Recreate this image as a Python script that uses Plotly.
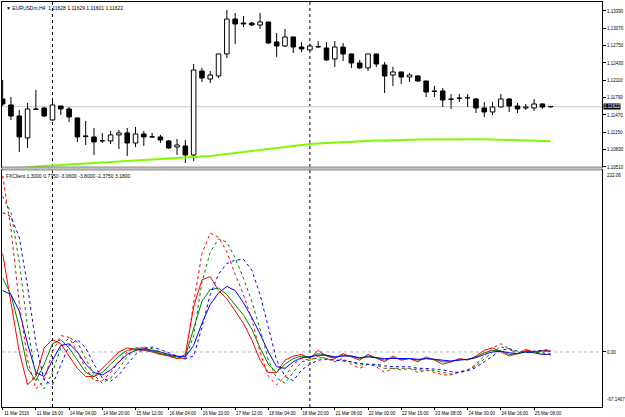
import plotly.graph_objects as go

bars = list(range(67))
opens = [1.11765, 1.11654, 1.11451, 1.11045, 1.11581, 1.11599, 1.11378, 1.11636, 1.11581, 1.11415,
         1.11083, 1.11064, 1.10990, 1.10990, 1.11101, 1.11138, 1.10952, 1.11119, 1.11068, 1.11064,
         1.10990, 1.10879, 1.10898, 1.10731, 1.12282, 1.12134, 1.12190, 1.12596, 1.13242, 1.13168,
         1.13168, 1.13131, 1.13187, 1.12818, 1.12744, 1.12910, 1.12725, 1.12670, 1.12735, 1.12707,
         1.12504, 1.12725, 1.12596, 1.12430, 1.12339, 1.12596, 1.12393, 1.12208, 1.12264, 1.12171,
         1.12190, 1.12097, 1.11913, 1.11913, 1.11765, 1.11784, 1.11784, 1.11765, 1.11599, 1.11525,
         1.11617, 1.11765, 1.11636, 1.11599, 1.11599, 1.11673, 1.11628]
highs = [1.12116, 1.11802, 1.11562, 1.11691, 1.11931, 1.11617, 1.11784, 1.11640, 1.11617, 1.11420,
         1.11360, 1.11230, 1.11138, 1.11175, 1.11193, 1.11230, 1.11248, 1.11175, 1.11138, 1.11101,
         1.11008, 1.11027, 1.11008, 1.12411, 1.12339, 1.12282, 1.12600, 1.13408, 1.13353, 1.13298,
         1.13187, 1.13353, 1.13190, 1.12984, 1.13058, 1.12915, 1.12818, 1.12781, 1.12836, 1.12818,
         1.12836, 1.12799, 1.12600, 1.12486, 1.12600, 1.12600, 1.12449, 1.12356, 1.12268, 1.12245,
         1.12208, 1.12100, 1.12005, 1.11968, 1.11857, 1.11857, 1.11857, 1.11784, 1.11710, 1.11710,
         1.11857, 1.11784, 1.11691, 1.11673, 1.11765, 1.11691, 1.11629]
lows = [1.11636, 1.11378, 1.10787, 1.10861, 1.11562, 1.11433, 1.11360, 1.11470, 1.11341, 1.10971,
        1.10916, 1.10731, 1.10952, 1.10934, 1.10842, 1.10713, 1.10879, 1.10898, 1.11045, 1.10952,
        1.10842, 1.10731, 1.10584, 1.10619, 1.12079, 1.12060, 1.12153, 1.12522, 1.12781, 1.13094,
        1.13113, 1.13058, 1.12781, 1.12541, 1.12725, 1.12615, 1.12633, 1.12665, 1.12707, 1.12467,
        1.12356, 1.12467, 1.12339, 1.12319, 1.12282, 1.12356, 1.11876, 1.12005, 1.12042, 1.12079,
        1.12079, 1.11802, 1.11802, 1.11617, 1.11581, 1.11710, 1.11617, 1.11507, 1.11433, 1.11470,
        1.11612, 1.11525, 1.11507, 1.11562, 1.11544, 1.11581, 1.11601]
closes = [1.11673, 1.11451, 1.11064, 1.11581, 1.11572, 1.11451, 1.11654, 1.11581, 1.11433, 1.11064,
          1.11070, 1.10971, 1.10995, 1.11101, 1.11138, 1.10952, 1.11119, 1.11064, 1.11062, 1.11008,
          1.10861, 1.10916, 1.10731, 1.12301, 1.12153, 1.12208, 1.12596, 1.13242, 1.13150, 1.13150,
          1.13131, 1.13187, 1.12799, 1.12744, 1.12910, 1.12725, 1.12688, 1.12744, 1.12725, 1.12486,
          1.12725, 1.12596, 1.12430, 1.12339, 1.12596, 1.12411, 1.12190, 1.12264, 1.12171, 1.12208,
          1.12097, 1.11894, 1.11905, 1.11747, 1.11758, 1.11776, 1.11788, 1.11599, 1.11525, 1.11617,
          1.11765, 1.11636, 1.11581, 1.11617, 1.11673, 1.11617, 1.11622]
ma = [None, None,
      1.10491, 1.10510, 1.10519, 1.10528, 1.10537, 1.10547, 1.10556, 1.10565, 1.10574, 1.10584,
      1.10593, 1.10602, 1.10611, 1.10619, 1.10625, 1.10633, 1.10639, 1.10648, 1.10658, 1.10667,
      1.10676, 1.10685, 1.10704, 1.10713, 1.10731, 1.10750, 1.10768, 1.10787, 1.10805, 1.10824,
      1.10842, 1.10861, 1.10879, 1.10898, 1.10916, 1.10934, 1.10944, 1.10952, 1.10962, 1.10971,
      1.10980, 1.10990, 1.10990, 1.10999, 1.10999, 1.11008, 1.11008, 1.11012, 1.11016, 1.11018,
      1.11019, 1.11021, 1.11023, 1.11023, 1.11023, 1.11023, 1.11021, 1.11019, 1.11016, 1.11012,
      1.11008, 1.11003, 1.10997, 1.10990, 1.10986]

# FXClient indicator buffers
red_solid = [120, 60, 0, -40, -30, 5, 15, 10, -5, -20, -30, -30, -20, -10, 0, 5, 3, 2, 0, -3,
             -5, -8, -3, 55, 88, 92, 75, 65, 50, 35, 15, -10, -25, -25, -10, -5, -3, -8, 2, -5,
             -8, -2, -6, -10, -3, -8, -12, -5, -10, -8, -12, -6, -10, -15, -12, -8, -10, -5, 2, 5,
             0, -5, -2, 3, 0, 2, 1.3]
green_solid = [90, 70, 30, -20, -35, -15, 10, 15, 5, -10, -25, -30, -25, -15, -5, 2, 4, 3, 1, -2,
               -4, -6, -5, 30, 62, 76, 78, 70, 58, 45, 28, 5, -15, -25, -15, -8, -5, -6, -2, -4,
               -7, -4, -5, -8, -5, -7, -10, -7, -9, -8, -10, -8, -9, -12, -12, -9, -9, -6, -1, 2,
               1, -3, -2, 1, 0, 1, 0.775]
blue_solid = [75, 70, 50, 10, -25, -30, -10, 8, 10, 0, -15, -25, -28, -22, -12, -3, 2, 4, 2, 0,
              -3, -5, -6, 8, 35, 58, 72, 80, 75, 60, 42, 22, 0, -18, -20, -12, -7, -6, -4, -4,
              -6, -5, -5, -7, -6, -7, -8, -8, -8, -8, -9, -8, -9, -10, -11, -10, -9, -7, -3, 0,
              1, -1, -2, 0, -1, -3, -3.06]
red_dot = [215, 150, 60, -10, -45, -35, 0, 20, 18, 0, -20, -35, -35, -25, -12, 0, 5, 5, 2, -2,
           -5, -8, -8, 60, 120, 145, 140, 122, 95, 70, 40, 0, -30, -40, -30, -15, -8, -10, -5, -8,
           -12, -8, -15, -20, -15, -18, -25, -20, -22, -20, -25, -22, -25, -28, -28, -24, -22, -15, -5, 5,
           10, 3, -3, 2, 0, -2, -3.8]
green_dot = [190, 170, 110, 30, -30, -45, -25, 5, 18, 12, -8, -28, -38, -32, -20, -6, 3, 6, 4, 0,
             -4, -7, -9, 20, 85, 122, 138, 134, 115, 90, 62, 28, -10, -32, -38, -25, -12, -10, -7, -8,
             -10, -10, -12, -16, -15, -16, -20, -20, -20, -20, -22, -22, -23, -25, -27, -25, -22, -17, -8, 0,
             6, 4, -1, 0, 0, -1, -2.375]
blue_dot = [170, 165, 140, 80, 10, -35, -40, -15, 8, 15, 5, -15, -32, -36, -28, -15, -3, 4, 6, 3,
            -1, -5, -8, -5, 30, 70, 95, 108, 112, 113, 100, 70, 30, -10, -30, -35, -22, -15, -10, -9,
            -10, -11, -12, -14, -15, -15, -17, -18, -18, -18, -20, -20, -21, -22, -24, -25, -23, -19, -12, -5,
            2, 4, 1, -1, 1, 2, 3.18]

tick_bars = [0, 4, 8, 12, 16, 20, 24, 28, 32, 36, 40, 44, 48, 52, 56, 60, 64]
tick_text = ["11 Mar 2016", "11 Mar 16:00", "14 Mar 04:00", "14 Mar 20:00", "15 Mar 12:00",
             "16 Mar 04:00", "16 Mar 20:00", "17 Mar 12:00", "18 Mar 04:00", "18 Mar 20:00",
             "21 Mar 08:00", "22 Mar 00:00", "22 Mar 16:00", "23 Mar 08:00", "24 Mar 00:00",
             "24 Mar 16:00", "25 Mar 08:00"]
price_ticks = [1.10510, 1.10830, 1.11150, 1.11470, 1.11790, 1.12110, 1.12430, 1.12750, 1.13070, 1.13390]
bid = 1.11622
separators = [6, 37]
ind_max, ind_min = 222.06, -67.1467

FONT = "Liberation Sans"
fig = go.Figure()

# candle bodies
bases = [min(o, c) for o, c in zip(opens, closes)]
heights = [abs(c - o) for o, c in zip(opens, closes)]
colors = ["white" if c >= o else "black" for o, c in zip(opens, closes)]
fig.add_trace(go.Bar(x=bars, y=heights, base=bases, width=0.55,
                     marker=dict(color=colors, line=dict(color="black", width=1)),
                     xaxis="x", yaxis="y", hoverinfo="skip"))
# wicks
wx, wy = [], []
for i, o, h, l, c in zip(bars, opens, highs, lows, closes):
    wx += [i, i, None, i, i, None]
    wy += [h, max(o, c), None, min(o, c), l, None]
fig.add_trace(go.Scatter(x=wx, y=wy, mode="lines", line=dict(color="black", width=1),
                         xaxis="x", yaxis="y", hoverinfo="skip"))
# moving average
fig.add_trace(go.Scatter(x=bars, y=ma, mode="lines", line=dict(color="#7cfc00", width=2),
                         xaxis="x", yaxis="y"))

for vals, col, dash in [(red_solid, "#ff0000", "solid"), (green_solid, "#008000", "solid"),
                        (blue_solid, "#0000ff", "solid"), (red_dot, "#ff0000", "dot"),
                        (green_dot, "#008000", "dot"), (blue_dot, "#0000ff", "dot")]:
    fig.add_trace(go.Scatter(x=bars, y=vals, mode="lines", line=dict(color=col, width=1, dash=dash),
                             xaxis="x2", yaxis="y2"))

xr = [-0.08, 72.18]
ax_common = dict(showgrid=False, zeroline=False, showline=True, mirror=True, linecolor="black",
                 linewidth=1, tickfont=dict(family=FONT, size=4.5, color="black"))
fig.update_layout(
    width=625, height=417, margin=dict(l=1, r=22, t=2, b=10),
    paper_bgcolor="white", plot_bgcolor="white", showlegend=False,
    xaxis=dict(anchor="y", range=xr, showticklabels=False, ticks="", **ax_common),
    yaxis=dict(anchor="x", domain=[0.5926, 1], side="right", range=[1.10509, 1.13556],
               tickvals=price_ticks, tickformat=".5f", ticks="outside", ticklen=3,
               tickcolor="black", **ax_common),
    xaxis2=dict(anchor="y2", range=xr, tickvals=tick_bars, ticktext=tick_text, ticks="outside",
                ticklen=2, tickcolor="black", ticklabelshift=14, ticklabelstandoff=0, **ax_common),
    yaxis2=dict(anchor="x2", domain=[0, 0.5852], side="right", range=[ind_min, ind_max],
                tickvals=[0], ticktext=["0.00"], ticks="outside", ticklen=3, tickcolor="black",
                **ax_common),
)

shapes = []
# separator between panels
shapes.append(dict(type="rect", xref="paper", yref="paper", x0=0, x1=1, y0=0.5852, y1=0.5926,
                   fillcolor="#c0c0c0", line=dict(color="#909090", width=1), layer="above"))
# bid line
shapes.append(dict(type="line", xref="x", yref="y", x0=xr[0], x1=xr[1], y0=bid, y1=bid,
                   line=dict(color="#c8c8c8", width=1), layer="below"))
# zero level
shapes.append(dict(type="line", xref="x2", yref="y2", x0=xr[0], x1=xr[1], y0=0, y1=0,
                   line=dict(color="#b0b0b0", width=1, dash="dot"), layer="below"))
for s in separators:
    shapes.append(dict(type="line", xref="x", yref="paper", x0=s, x1=s, y0=0, y1=1,
                       line=dict(color="black", width=1, dash="dot"), layer="below"))
fig.update_layout(shapes=shapes)

ann = [
    dict(text="▼ EURUSDm,H4  1.11628 1.11629 1.11601 1.11622", xref="paper", yref="paper",
         x=0, y=1, xanchor="left", yanchor="top", xshift=2, yshift=-1, showarrow=False,
         font=dict(family=FONT, size=5, color="black")),
    dict(text="FXClient 1.3000 0.7750 -3.0600 -3.8000 -2.3750 3.1800", xref="paper", yref="paper",
         x=0, y=0.5852, xanchor="left", yanchor="top", xshift=2, yshift=-1, showarrow=False,
         font=dict(family=FONT, size=5, color="black")),
    dict(text="1.11622", xref="paper", yref="y", x=1, y=bid, xanchor="left", yanchor="middle",
         xshift=1, showarrow=False, bgcolor="black", borderpad=0,
         font=dict(family=FONT, size=4.5, color="white")),
    dict(text="222.06", xref="paper", yref="y2", x=1, y=ind_max, xanchor="left", yanchor="top",
         xshift=3, yshift=-1, showarrow=False, font=dict(family=FONT, size=4.5, color="black")),
    dict(text="-67.1467", xref="paper", yref="y2", x=1, y=ind_min, xanchor="left", yanchor="bottom",
         xshift=3, yshift=3, showarrow=False, font=dict(family=FONT, size=4.5, color="black")),
]
fig.update_layout(annotations=ann)

fig.write_html("out.html")
